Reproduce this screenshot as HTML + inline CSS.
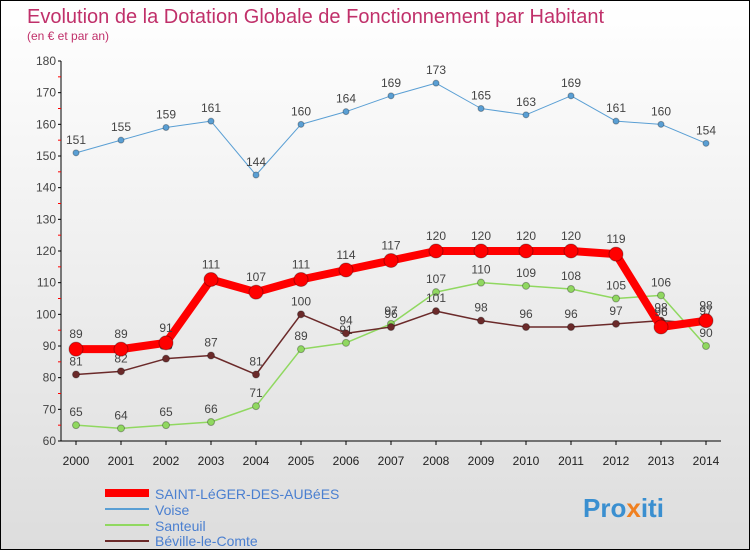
<!DOCTYPE html>
<html><head><meta charset="utf-8"><style>
body{margin:0;width:750px;height:550px;overflow:hidden;font-family:"Liberation Sans",sans-serif}
#wrap{position:relative;width:748px;height:548px;border:1px solid #000;background:linear-gradient(#fff,#ddd)}
</style></head><body>
<div id="wrap">
<svg id="chart" width="748" height="548">
<text x="26" y="22" font-size="20" fill="#c0306a">Evolution de la Dotation Globale de Fonctionnement par Habitant</text>
<text x="26" y="39" font-size="12" fill="#c0306a">(en € et par an)</text>
<g id="axes"></g><g id="series"></g>
<g>
<line x1="104" y1="492" x2="148" y2="492" stroke="#f00" stroke-width="8"/>
<text x="154" y="498" font-size="14" fill="#4a7fd0">SAINT-LéGER-DES-AUBéES</text>
<line x1="104" y1="508" x2="148" y2="508" stroke="#5a9fd4" stroke-width="2"/>
<text x="154" y="514" font-size="14" fill="#4a7fd0">Voise</text>
<line x1="104" y1="524" x2="148" y2="524" stroke="#90d860" stroke-width="2"/>
<text x="154" y="530" font-size="14" fill="#4a7fd0">Santeuil</text>
<line x1="104" y1="540" x2="148" y2="540" stroke="#6b2a2a" stroke-width="2"/>
<text x="154" y="545" font-size="14" fill="#4a7fd0">Béville-le-Comte</text>
</g>
<text x="582" y="516" font-size="26" font-weight="bold" fill="#3a8fd0">Pro<tspan fill="#f08020">x</tspan>iti</text>
</svg></div>
<script>
const years=[2000,2001,2002,2003,2004,2005,2006,2007,2008,2009,2010,2011,2012,2013,2014];
const yTicks=[60,70,80,90,100,110,120,130,140,150,160,170,180];
const mainVals=[89,89,91,111,107,111,114,117,120,120,120,120,119,96,98];
const voiseVals=[151,155,159,161,144,160,164,169,173,165,163,169,161,160,154];
const santeuilVals=[65,64,65,66,71,89,91,97,107,110,109,108,105,106,90];
const bevilleVals=[81,82,86,87,81,100,94,96,101,98,96,96,97,98,97];
const NS="http://www.w3.org/2000/svg";
const xS=i=>75+i*45;
const yS=v=>440-(v-60)*380/120;
function mk(t,a,p){const e=document.createElementNS(NS,t);for(const k in a)e.setAttribute(k,a[k]);p.appendChild(e);return e;}
const ax=document.getElementById('axes');
let l=mk('line',{x1:60,y1:60,x2:60,y2:440,stroke:'#000'},ax);


l=mk('line',{x1:60,y1:440,x2:720,y2:440,stroke:'#000'},ax);


for(let v=60;v<=180;v+=5){mk('line',{x1:57,x2:60,y1:yS(v),y2:yS(v),stroke:v%10?'#f00':'#000'},ax);}
yTicks.forEach(v=>{const t=mk('text',{x:55,y:yS(v)+4,'font-size':12,fill:'#444','text-anchor':'end'},ax);t.textContent=v;

});
years.forEach((y,i)=>{mk('line',{x1:xS(i),x2:xS(i),y1:440,y2:444,stroke:'#000'},ax);const t=mk('text',{x:xS(i),y:464,'font-size':12,fill:'#222','text-anchor':'middle'},ax);t.textContent=y;

});
const sg=document.getElementById('series');
function draw(vals,col,w,r,name,dy){
const g=mk('g',{},sg);


const p=mk('polyline',{points:vals.map((v,i)=>xS(i)+','+yS(v)).join(' '),fill:'none',stroke:col,'stroke-width':w,'stroke-linejoin':'round'},g);


vals.forEach((v,i)=>{const c=mk('circle',{cx:xS(i),cy:yS(v),r:r,fill:col,stroke:'rgba(0,0,0,0.3)'},g);


const t=mk('text',{x:xS(i),y:yS(v)+dy,'font-size':12,fill:'#444','text-anchor':'middle'},g);t.textContent=v;

});
}
draw(voiseVals,'#5a9fd4',1,3,'voise-series',-9);
draw(santeuilVals,'#90d860',1.5,3.5,'santeuil-series',-9);
draw(bevilleVals,'#6b2a2a',1.5,3.5,'beville-series',-9);
draw(mainVals,'#f00',8,7,'main-series',-11);
</script>
</body></html>
